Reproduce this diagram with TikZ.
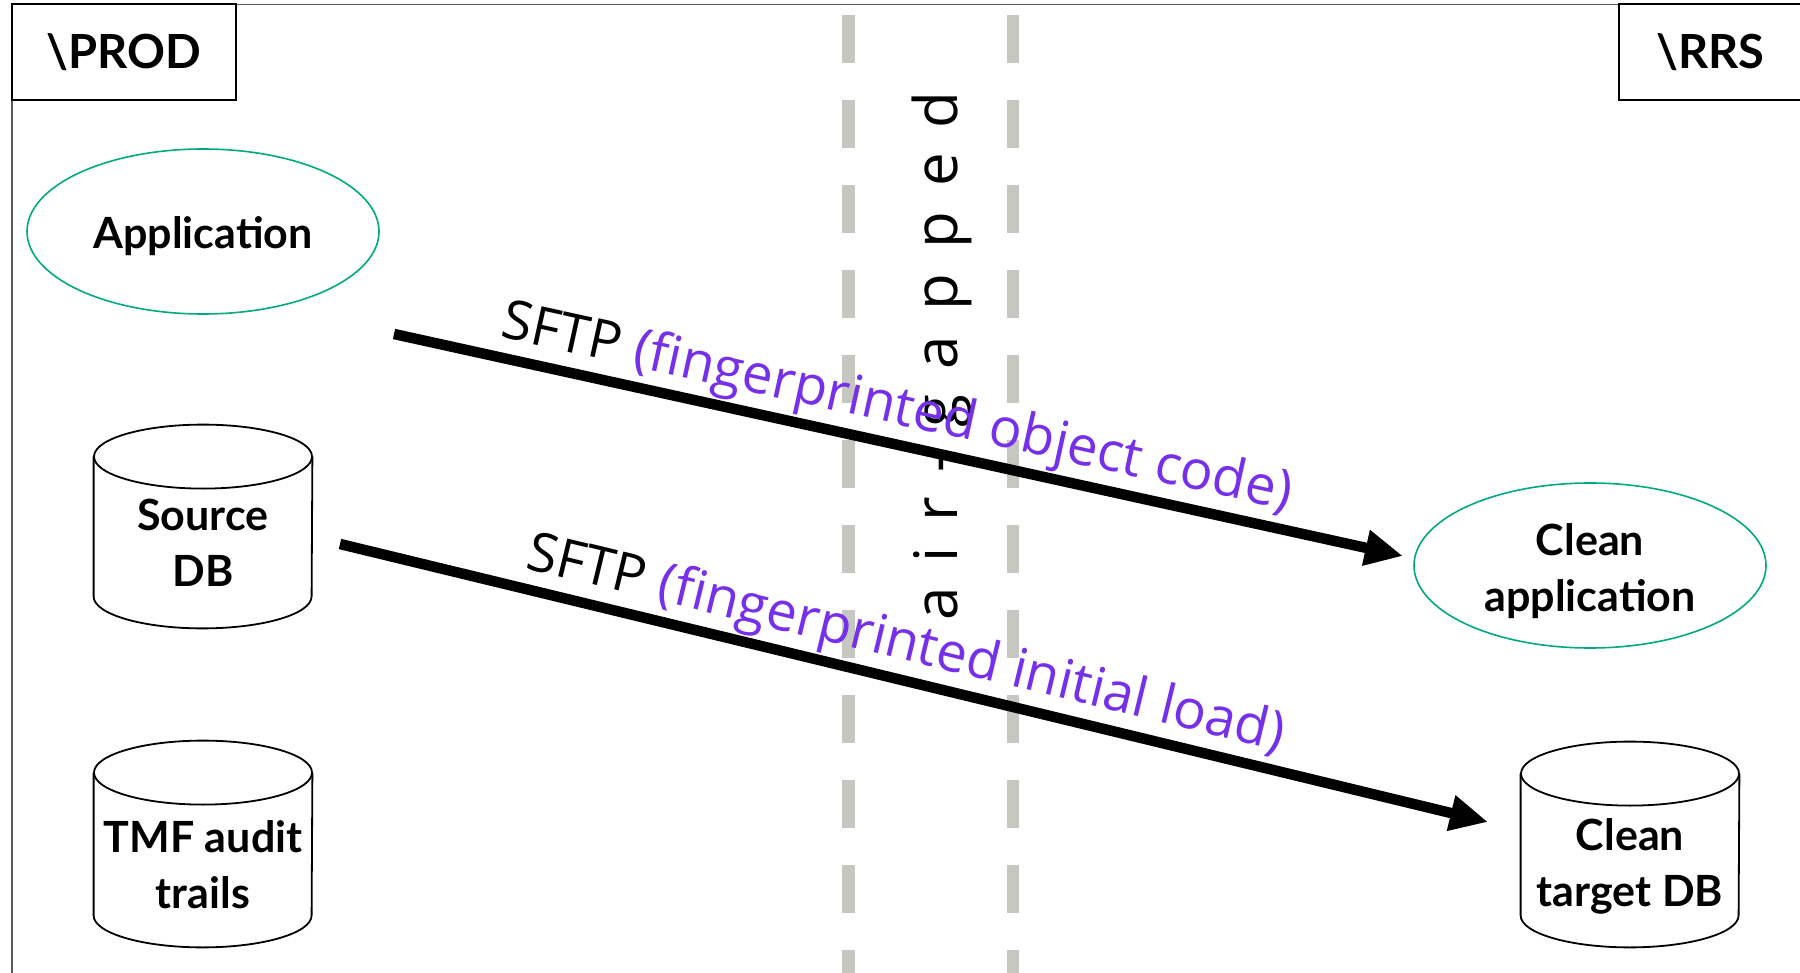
\documentclass[tikz,border=0pt]{standalone}
\usepackage{fontspec}
\usetikzlibrary{arrows.meta,shapes.geometric,calc}
\setmainfont{Lato}
\newfontfamily\nodefam{Lato}
\newfontfamily\labelfam{Open Sans}
\newfontfamily\gapfam{Open Sans}[LetterSpace=42]

\definecolor{appgreen}{HTML}{01A982}
\definecolor{sftppurple}{HTML}{7630EA}
\definecolor{gapgray}{HTML}{C7C7C1}
\definecolor{framegray}{HTML}{5A5A5A}

\begin{document}
\begin{tikzpicture}[
  x=0.5pt, y=-0.5pt,
  frameline/.style={draw=framegray, line width=0.75pt},
  tagbox/.style={draw=black, line width=0.75pt, rectangle, inner sep=0pt,
    minimum height=48pt, text height=17pt, text depth=0pt,
    font=\nodefam\bfseries\fontsize{23.5pt}{28pt}\selectfont},
  appshape/.style={ellipse, draw=appgreen, line width=0.8pt, inner sep=0pt,
    minimum width=176pt, minimum height=82.5pt, text depth=0pt,
    font=\nodefam\bfseries\fontsize{21.5pt}{28pt}\selectfont},
  dbshape/.style={rectangle, inner sep=0pt, minimum width=109pt, text depth=0pt,
    font=\nodefam\bfseries\fontsize{21.5pt}{28pt}\selectfont},
  dbline/.style={draw=black, line width=0.9pt},
  gapline/.style={draw=gapgray, line width=6.25pt, dash pattern=on 24pt off 18.5pt},
  gaptext/.style={inner sep=0pt, font=\gapfam\fontsize{30pt}{34pt}\selectfont},
  flow/.style={draw=black, line width=5.25pt, -{Triangle[length=19pt, width=17pt]}},
  flowlabel/.style={sloped, anchor=base west, inner sep=0pt, yshift=10pt,
    font=\labelfam\fontsize{27.2pt}{30pt}\selectfont}
]
\useasboundingbox (0,0) rectangle (1800,973);
\clip (0,0) rectangle (1800,973);

% outer frame (open to the right and bottom)
\coordinate (frameBL) at (12,990);
\coordinate (frameTL) at (12,4.5);
\coordinate (frameTR) at (1815,4.5);
\draw[frameline] (frameBL) -- (frameTL) -- (frameTR);

% site tags
\node[tagbox, minimum width=112pt] (prod) at (124,52) {\textbackslash PROD};
\node[tagbox, minimum width=91.5pt] (rrs) at (1710.5,52) {\textbackslash RRS};

% air gap
\coordinate (gapLtop) at (848.5,15);
\coordinate (gapLbot) at (848.5,1000);
\coordinate (gapRtop) at (1013,15);
\coordinate (gapRbot) at (1013,1000);
\draw[gapline] (gapLtop) -- (gapLbot);
\draw[gapline] (gapRtop) -- (gapRbot);
\node[gaptext, rotate=90, anchor=base west] (gap) at (957,621) {air-gapped};

% production side
\node[appshape, text height=17.5pt] (app) at (203,231.5) {Application};
\node[dbshape, minimum height=101.5pt, text height=4pt] (srcdb) at (203,526.5)
  {\begin{tabular}[t]{@{}c@{}}Source\\DB\end{tabular}};
\node[dbshape, minimum height=103pt, text height=8pt] (tmf) at (203,844)
  {\begin{tabular}[t]{@{}c@{}}TMF audit\\trails\end{tabular}};

% recovery side
\node[appshape, text height=0pt, text depth=10.5pt] (cleanapp) at (1590,565.5)
  {\begin{tabular}[t]{@{}c@{}}Clean\\application\end{tabular}};
\node[dbshape, minimum height=102.5pt, text height=5.5pt] (tgtdb) at (1630,844.5)
  {\begin{tabular}[t]{@{}c@{}}Clean\\target DB\end{tabular}};

% cylinder outlines around the database nodes
\foreach \db in {srcdb,tmf,tgtdb}{
  \draw[dbline] ($(\db.north west)+(0,32)$) -- ($(\db.south west)+(0,-32)$)
    arc[start angle=180, end angle=360, x radius=54.5pt, y radius=16pt]
    -- ($(\db.north east)+(0,32)$);
  \draw[dbline] ($(\db.north)+(0,32)$) ellipse[x radius=54.5pt, y radius=16pt];
}

% transfers across the gap
\coordinate (objFrom) at (394,334);
\coordinate (objTo) at (1403,556);
\coordinate (loadFrom) at (340,544);
\coordinate (loadTo) at (1488,822);
\draw[flow] (objFrom) -- node[flowlabel, pos=0.095]
  {SFTP \textcolor{sftppurple}{(fingerprinted object code)}} (objTo);
\draw[flow] (loadFrom) -- node[flowlabel, pos=0.152]
  {SFTP \textcolor{sftppurple}{(fingerprinted initial load)}} (loadTo);
\end{tikzpicture}
\end{document}
